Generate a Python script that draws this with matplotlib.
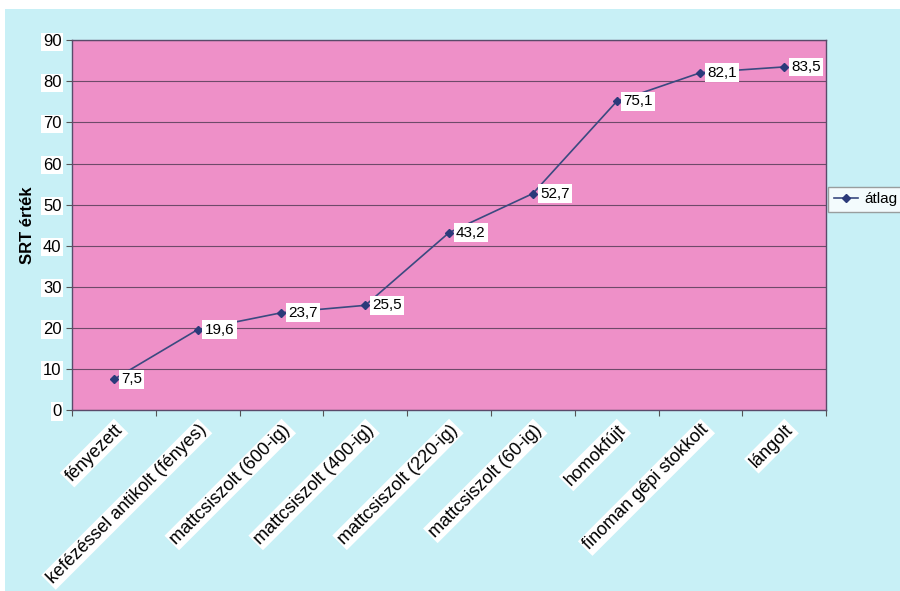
import numpy as np
import matplotlib.pyplot as plt
from matplotlib.patches import Rectangle

plt.rcParams['font.family'] = ['Liberation Sans', 'DejaVu Sans']

categories = ["fényezett", "kefézéssel antikolt (fényes)", "mattcsiszolt (600-ig)",
              "mattcsiszolt (400-ig)", "mattcsiszolt (220-ig)", "mattcsiszolt (60-ig)",
              "homokfújt", "finoman gépi stokkolt", "lángolt"]
values = [7.5, 19.6, 23.7, 25.5, 43.2, 52.7, 75.1, 82.1, 83.5]
value_labels = ["7,5", "19,6", "23,7", "25,5", "43,2", "52,7", "75,1", "82,1", "83,5"]

bg = "#c8f0f6"
pink = "#ee90c8"
navy = "#2b3a7a"

fig = plt.figure(figsize=(9, 5.91), dpi=100, facecolor=bg)
# white scan border at the top and left
fig.patches.append(Rectangle((0, 0.985), 1, 0.015, transform=fig.transFigure,
                             fc="white", ec="none", zorder=0))
fig.patches.append(Rectangle((0, 0), 0.006, 1, transform=fig.transFigure,
                             fc="white", ec="none", zorder=0))

ax = fig.add_axes([0.08, 0.306, 0.838, 0.626])
ax.set_facecolor(pink)

x = np.arange(len(categories)) + 0.5
ax.plot(x, values, color="#3a4a80", lw=1.2, marker="D", markersize=4.5,
        markerfacecolor=navy, markeredgecolor=navy, label="átlag")

for xi, v, t in zip(x, values, value_labels):
    ax.annotate(t, (xi, v), xytext=(5, 0), textcoords="offset points",
                ha="left", va="center", fontsize=11,
                bbox=dict(boxstyle="square,pad=0.15", fc="white", ec="none"))

ax.set_xlim(0, len(categories))
ax.set_ylim(0, 90)
ax.set_yticks(range(0, 91, 10))
ax.yaxis.grid(True, color="#6e4a6a", lw=0.8)
ax.set_axisbelow(True)

ax.set_xticks(np.arange(len(categories) + 1))
ax.set_xticklabels([])
ax.set_xticks(x, minor=True)
ax.set_xticklabels(categories, minor=True, rotation=45, ha="right",
                   rotation_mode="anchor", fontsize=13)
ax.tick_params(axis="x", which="minor", length=0, pad=8)
ax.tick_params(axis="x", which="major", length=4, color="#555555")
ax.tick_params(axis="y", labelsize=12, length=4, color="#555555")
for lab in ax.get_xticklabels(minor=True) + ax.get_yticklabels():
    lab.set_bbox(dict(boxstyle="square,pad=0.1", fc="white", ec="none"))

for s in ax.spines.values():
    s.set_color("#5a4a6a")
    s.set_linewidth(1.0)

ax.set_ylabel("SRT érték", fontsize=12, fontweight="bold", labelpad=6)

leg = ax.legend(loc="center left", bbox_to_anchor=(1.003, 0.57), fontsize=11,
                frameon=True, fancybox=False, handlelength=1.6, borderpad=0.35,
                handletextpad=0.4, borderaxespad=0)
leg.get_frame().set_edgecolor("#888888")
leg.get_frame().set_facecolor("white")

fig.savefig("out.png", dpi=100, facecolor=bg)
